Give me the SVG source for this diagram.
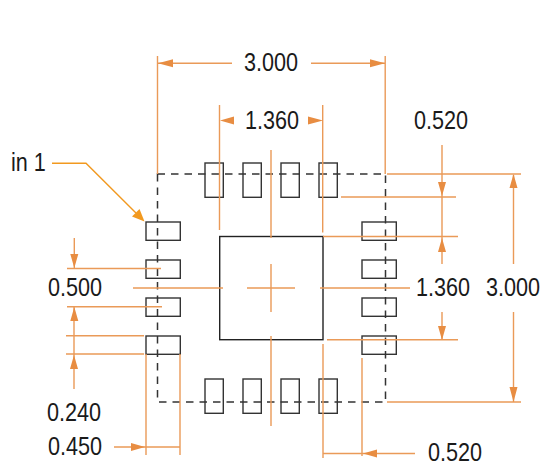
<svg xmlns="http://www.w3.org/2000/svg" width="542" height="462" viewBox="0 0 542 462">
<style>
.pad{fill:none;stroke:#333;stroke-width:1.4}
.dim{fill:none;stroke:#ea9a58;stroke-width:1.4}
.ah{fill:#e88d42;stroke:none}
.lead{fill:none;stroke:#f2991f;stroke-width:1.4}
.out{fill:none;stroke:#333;stroke-width:1.5;stroke-dasharray:7.5 6}
text{font-family:"Liberation Sans",Arial,sans-serif;font-size:25px;fill:#1a1a1a}
</style>
<rect width="542" height="462" fill="#fff"/>
<g id="outline"><rect class="out" x="157.5" y="174" width="228" height="228"/></g>
<g id="exposed-pad"><rect x="219.7" y="236.5" width="103.3" height="103.2" fill="none" stroke="#222" stroke-width="1.4"/></g>
<g id="pads-top">
<rect class="pad" x="205" y="163" width="18.3" height="34.3"/>
<rect class="pad" x="243" y="163" width="18.3" height="34.3"/>
<rect class="pad" x="281" y="163" width="18.3" height="34.3"/>
<rect class="pad" x="319" y="163" width="18.3" height="34.3"/>
</g>
<g id="pads-bottom">
<rect class="pad" x="205" y="379" width="18.3" height="34.3"/>
<rect class="pad" x="243" y="379" width="18.3" height="34.3"/>
<rect class="pad" x="281" y="379" width="18.3" height="34.3"/>
<rect class="pad" x="319" y="379" width="18.3" height="34.3"/>
</g>
<g id="pads-left">
<rect class="pad" x="146" y="222" width="34.3" height="18.3"/>
<rect class="pad" x="146" y="260" width="34.3" height="18.3"/>
<rect class="pad" x="146" y="298" width="34.3" height="18.3"/>
<rect class="pad" x="146" y="336" width="34.3" height="18.3"/>
</g>
<g id="pads-right">
<rect class="pad" x="362" y="222" width="34.3" height="18.3"/>
<rect class="pad" x="362" y="260" width="34.3" height="18.3"/>
<rect class="pad" x="362" y="298" width="34.3" height="18.3"/>
<rect class="pad" x="362" y="336" width="34.3" height="18.3"/>
</g>
<g id="connectors">
<path class="dim" d="M157.5 56V174M385.2 56V174M158 63.3H232M311 63.3H385"/>
<path class="dim" d="M219.5 105V230M322.7 105V232.5M271 150V238M271 264V312M247 288H295M133 288H223M320 288H410M271 336V426M323 344V458"/>
<path class="dim" d="M387 174H521M341 197H456M323 236.5H458M327 339.7H458M387 402H521M442 145V264M442 312V340M513.5 175V264M513.5 312V402"/>
<path class="dim" d="M362 358V456M323 453.5H415"/>
<path class="dim" d="M67 268.5H161M67 306.8H162M66 335.7H144M66 354H144M74.3 238V268M74 307V389M146 354V455M180 354V455M114 447H180"/>
<path class="ah" d="M158 63.3l15-4v8zM385 63.3l-15-4v8zM220 120.5l14-4v8zM323 120.5l-15-4v8zM442 196l-4-14h8zM442 238l-4 14h8zM513.5 174l-4 14h8zM442 340l-4-14h8zM513.5 402l-4-15h8zM363 453.5l14-4v8zM74.3 268l-4-14h8zM74.3 307l-4 14h8zM74 355l-4 14h8zM145 447l-14-4v8z"/>
<path class="lead" d="M52 163.3H86L136 213"/>
<path d="M144.5 221.5L132 216.5L139.5 209Z" fill="#f2991f"/>
</g>
<g id="labels">
<text transform="translate(244 71) scale(.865 1)">3.000</text>
<text transform="translate(245 128.7) scale(.865 1)">1.360</text>
<text transform="translate(414 128.7) scale(.865 1)">0.520</text>
<text transform="translate(11 170.7) scale(.865 1)">in 1</text>
<text transform="translate(48 296) scale(.865 1)">0.500</text>
<text transform="translate(416 296) scale(.865 1)">1.360</text>
<text transform="translate(486 296) scale(.865 1)">3.000</text>
<text transform="translate(47 420.7) scale(.865 1)">0.240</text>
<text transform="translate(48 454.5) scale(.865 1)">0.450</text>
<text transform="translate(428 461) scale(.865 1)">0.520</text>
</g>
</svg>
